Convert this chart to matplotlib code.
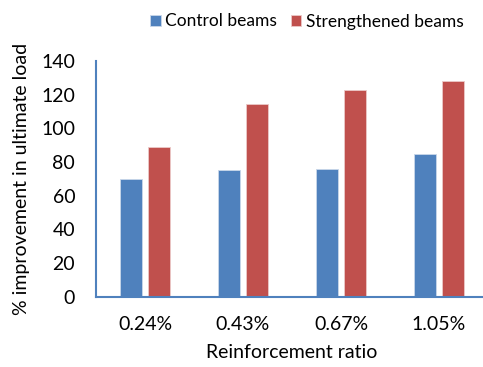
import matplotlib
matplotlib.use("Agg")
import matplotlib.pyplot as plt
import numpy as np

plt.rcParams['font.family'] = ['Lato', 'DejaVu Sans']

categories = ["0.24%", "0.43%", "0.67%", "1.05%"]
control = [70, 75, 75.5, 84.5]
strengthened = [89, 114.5, 123, 128]
series_names = ["Control beams", "Strengthened beams"]
yticks = [0, 20, 40, 60, 80, 100, 120, 140]

blue = "#4F81BD"
red = "#C0504D"

fig = plt.figure(figsize=(4.83, 3.67), dpi=100)
ax = fig.add_axes([96 / 483, 70.5 / 367, 392 / 483, 235.5 / 367])

x = np.arange(len(categories))
w = 0.224
off = 0.143
b1 = ax.bar(x - off, control, w, color=blue, edgecolor="#C9D7EA", linewidth=0.6, label=series_names[0])
b2 = ax.bar(x + off, strengthened, w, color=red, edgecolor="#EBC9C8", linewidth=0.6, label=series_names[1])

ax.set_xlim(-0.5, 3.5)
ax.set_ylim(0, 140)
ax.set_yticks(yticks)
ax.set_xticks(x)
ax.set_xticklabels(categories)
ax.tick_params(axis="both", length=0, labelsize=14, colors="black")
ax.tick_params(axis="y", pad=15)
ax.tick_params(axis="x", pad=14)

for s in ["top", "right"]:
    ax.spines[s].set_visible(False)
for s in ["left", "bottom"]:
    ax.spines[s].set_color(blue)
    ax.spines[s].set_linewidth(1.5)

ax.set_xlabel("Reinforcement ratio", fontsize=14, labelpad=8)
ax.set_ylabel("% improvement in ultimate load", fontsize=14, labelpad=8)

fig.legend(handles=[b1, b2], loc="center", bbox_to_anchor=(307 / 483, 1 - 21.5 / 367),
           ncol=2, frameon=False, fontsize=12.5, handlelength=0.6, handleheight=0.6,
           handletextpad=0.25, columnspacing=0.8)

fig.savefig("out.png", dpi=100)
